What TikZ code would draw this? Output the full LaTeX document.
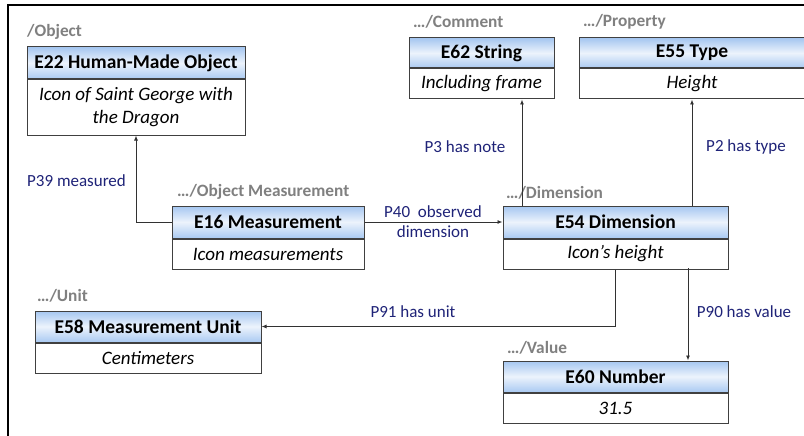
\documentclass[tikz,border=0pt]{standalone}
\usepackage{fontspec}
\setmainfont{Carlito}
\usetikzlibrary{arrows.meta}
\definecolor{hdrtop}{RGB}{165,198,240}
\definecolor{hdrmid}{RGB}{236,243,252}
\definecolor{hdrbot}{RGB}{170,202,242}
\definecolor{boxline}{RGB}{64,64,64}
\definecolor{lblgray}{RGB}{128,128,128}
\definecolor{navy}{RGB}{31,35,120}
\definecolor{lineclr}{RGB}{50,50,50}
\tikzset{
  hdr/.style={draw=boxline, line width=1pt, top color=hdrtop, bottom color=hdrbot, middle color=hdrmid,
    inner sep=0pt, font=\bfseries\fontsize{19.5}{22}\selectfont, text=black},
  bdy/.style={draw=boxline, line width=1pt, fill=white, inner sep=0pt, anchor=north,
    font=\itshape\fontsize{19}{23}\selectfont, align=center},
  cls/.style={anchor=west, inner sep=0pt, text=lblgray, font=\bfseries\fontsize{17.3}{20}\selectfont},
  rel/.style={inner sep=0pt, text=navy, font=\fontsize{17}{20.5}\selectfont, align=center},
  conn/.style={draw=lineclr, line width=0.9pt, -{Latex[length=5pt,width=4pt]}},
  frame/.style={draw=black, line width=1.4pt}
}
\begin{document}
\begin{tikzpicture}[x=1pt,y=-1pt]
\useasboundingbox (0,0) rectangle (804,436);
\clip (0,0) rectangle (804,436);
\fill[white] (0,0) rectangle (804,436);
\draw[frame] (8,437) -- (8,5) -- (806,5);

% class labels
\node[cls] (lobj) at (27,32) {/Object};
\node[cls] (lcom) at (413,22) {…/Comment};
\node[cls] (lprop) at (583,22) {…/Property};
\node[cls] (lmeas) at (177,192) {…/Object Measurement};
\node[cls] (ldim) at (506,193) {…/Dimension};
\node[cls] (lunit) at (37,296) {…/Unit};
\node[cls] (lval) at (507,348) {…/Value};

% boxes
\node[hdr, minimum width=218pt, minimum height=32pt] (e22h) at (136,63) {E22 Human-Made Object};
\node[bdy, minimum width=218pt, minimum height=55pt] (e22b) at (e22h.south) {Icon of Saint George with\\the Dragon};

\node[hdr, minimum width=145pt, minimum height=30pt] (e62h) at (481.5,53) {E62 String};
\node[bdy, minimum width=145pt, minimum height=30pt] (e62b) at (e62h.south) {Including frame};

\node[hdr, minimum width=226pt, minimum height=30pt] (e55h) at (692,53) {E55 Type};
\node[bdy, minimum width=226pt, minimum height=30pt] (e55b) at (e55h.south) {Height};

\node[hdr, minimum width=192pt, minimum height=32pt] (e16h) at (268,222) {E16 Measurement};
\node[bdy, minimum width=192pt, minimum height=30pt] (e16b) at (e16h.south) {Icon measurements};

\node[hdr, minimum width=225pt, minimum height=32pt] (e54h) at (615.5,222) {E54 Dimension};
\node[bdy, minimum width=225pt, minimum height=30pt] (e54b) at (e54h.south) {Icon’s height};

\node[hdr, minimum width=226pt, minimum height=31pt] (e58h) at (148,326.5) {E58 Measurement Unit};
\node[bdy, minimum width=226pt, minimum height=30pt] (e58b) at (e58h.south) {Centimeters};

\node[hdr, minimum width=225pt, minimum height=31pt] (e60h) at (615.5,376.5) {E60 Number};
\node[bdy, minimum width=225pt, minimum height=30pt] (e60b) at (e60h.south) {31.5};

% connectors
\draw[conn] (e16h.west) -| (e22b.south);
\draw[conn] (e16h.east) -- (e54h.west);
\coordinate (p3s) at (522,206);
\draw[conn] (p3s) -- (p3s |- e62b.south);
\draw[conn] (e55b.south |- e54h.north) -- (e55b.south);
\draw[conn] (e54b.south) |- (e58h.east);
\coordinate (p90s) at (688,268);
\draw[conn] (p90s) -- (p90s |- e60h.north);

% relation labels
\node[rel] (r39) at (76.5,181) {P39 measured};
\node[rel, anchor=north] (r40) at (433,205) {P40\ \ observed\\dimension};
\node[rel] (r3) at (465,147) {P3 has note};
\node[rel] (r2) at (746,147) {P2 has type};
\node[rel] (r91) at (413,312) {P91 has unit};
\node[rel] (r90) at (744,312) {P90 has value};
\end{tikzpicture}
\end{document}
